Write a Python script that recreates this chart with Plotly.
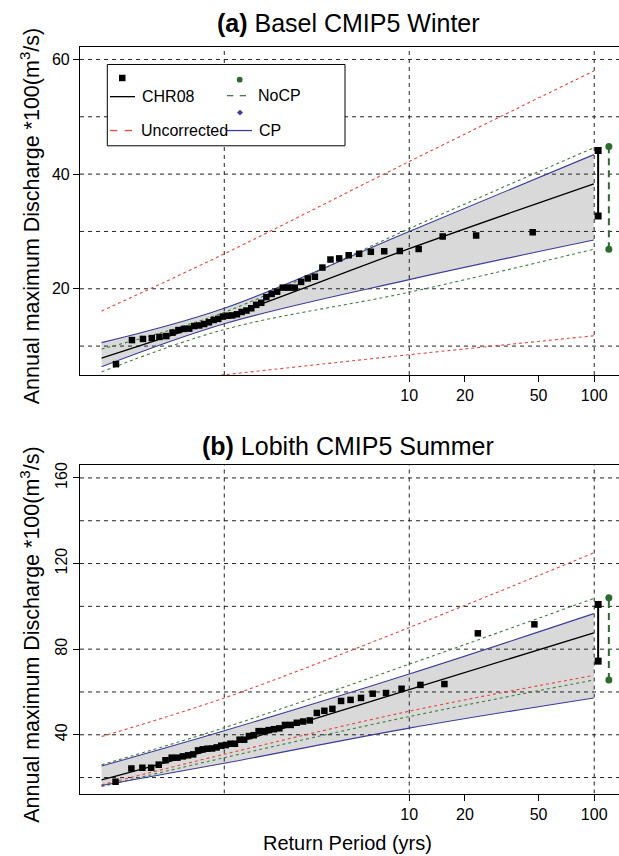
import math
import plotly.graph_objects as go

FONT = "Liberation Sans, Arial, Helvetica, sans-serif"

# ---------------- data ----------------
# Sorted annual maxima (x100 m3/s)
basel_obs = [6.85, 11.05, 11.25, 11.4, 11.6, 11.75, 12.35, 12.8, 13.0, 13.05,
             13.5, 13.6, 13.85, 14.15, 14.55, 14.75, 15.15, 15.3, 15.35, 15.55,
             15.95, 16.2, 16.6, 17.2, 17.55, 18.55, 19.1, 19.5, 20.2, 20.2,
             20.2, 21.2, 21.8, 22.1, 23.7, 25.1, 25.3, 25.85, 26.1, 26.45,
             26.55, 26.6, 26.95, 29.1, 29.3, 29.85]
lobith_obs = [18.1, 24.2, 24.65, 24.65, 26.05, 28.1, 29.3, 29.3, 29.9, 30.4,
              30.85, 32.7, 33.2, 33.5, 33.6, 34.1, 34.9, 35.2, 35.8, 35.8,
              37.7, 37.7, 39.4, 39.8, 41.7, 41.7, 42.2, 42.6, 43.0, 44.6,
              44.6, 45.6, 46.2, 46.7, 50.2, 51.2, 52.1, 55.8, 56.3, 57.2,
              59.2, 59.5, 61.5, 63.3, 63.7, 87.4, 91.6]

# Fitted curves, evaluated at these return periods (yrs)
curve_rp = [0.2171, 1.0, 10.0, 99.5]

basel_chr08 = [7.9, 15.0, 27.0, 38.3]
basel_cp_hi = [10.6, 16.6, 30.0, 43.4]
basel_cp_lo = [6.4, 13.9, 21.6, 28.5]
basel_nocp_hi = [9.5, 15.9, 30.5, 44.6]
basel_nocp_lo = [5.5, 12.9, 19.4, 26.9]
basel_unc_hi = [16.1, 26.1, 42.2, 58.0]
basel_unc_lo = [2.7, 5.0, 8.5, 11.8]

lobith_chr08 = [18.9, 34.7, 61.1, 87.6]
lobith_cp_hi = [25.4, 41.9, 68.4, 96.6]
lobith_cp_lo = [16.3, 26.7, 43.1, 57.2]
lobith_nocp_hi = [26.0, 43.3, 73.0, 103.7]
lobith_nocp_lo = [15.8, 29.3, 48.5, 65.6]
lobith_unc_hi = [39.2, 57.2, 90.1, 125.0]
lobith_unc_lo = [16.6, 30.9, 51.0, 67.75]

# 100-yr ranges drawn beside each panel
bar_rp_chr08 = 105
bar_rp_nocp = 120
basel_bar_chr08 = [32.7, 44.1]
basel_bar_nocp = [26.9, 44.8]
lobith_bar_chr08 = [74.4, 100.9]
lobith_bar_nocp = [65.6, 104.0]

x_ticks = [10, 20, 50, 100]
x_grid = [1, 10, 100]
basel_yticks = [20, 40, 60]
basel_ygrid = [10, 20, 30, 40, 50, 60]
lobith_yticks = [40, 80, 120, 160]
lobith_ygrid = [20, 40, 60, 80, 100, 120, 140, 160]

# ---------------- styling ----------------
W, H = 619, 856
ML = 80
X_RANGE = [-0.780, 2.134]
BASEL_YR = [4.96, 62.2]
LOBITH_YR = [12.55, 166.2]

C_RED = "#e8453c"
C_GREEN = "#3f7f3f"
C_BLUE = "#3c3c99"
C_FILL = "#d9d9d9"
C_GRID = "#222222"


def plotting_rp(n):
    """Weibull plotting-position return periods for ranks 1..n."""
    return [-1.0 / math.log(i / (n + 1)) for i in range(1, n + 1)]


def px(xp):
    return (xp - ML) / (W - ML)


def py(yp):
    return 1 - yp / H


fig = go.Figure()


def add_panel(xa, ya, yr, obs, chr08, cp_hi, cp_lo, nocp_hi, nocp_lo,
              unc_hi, unc_lo, bar_chr, bar_nocp, ygrid):
    kw = dict(xaxis=xa, yaxis=ya, showlegend=False, hoverinfo="skip")
    # CP band
    fig.add_trace(go.Scatter(x=curve_rp, y=cp_lo, mode="lines",
                             line=dict(width=0, shape="spline"), **kw))
    fig.add_trace(go.Scatter(x=curve_rp, y=cp_hi, mode="lines", fill="tonexty",
                             fillcolor=C_FILL, line=dict(width=0, shape="spline"), **kw))
    # grid
    for g in x_grid:
        fig.add_trace(go.Scatter(x=[g, g], y=yr, mode="lines",
                                 line=dict(color=C_GRID, width=1, dash="4px,4px"), **kw))
    for g in ygrid:
        fig.add_trace(go.Scatter(x=[10 ** X_RANGE[0], 10 ** X_RANGE[1]], y=[g, g], mode="lines",
                                 line=dict(color=C_GRID, width=1, dash="4px,4px"), **kw))
    # curves
    for ys in (unc_hi, unc_lo):
        fig.add_trace(go.Scatter(x=curve_rp, y=ys, mode="lines",
                                 line=dict(color=C_RED, width=1.1, dash="3px,3px", shape="spline"), **kw))
    for ys in (nocp_hi, nocp_lo):
        fig.add_trace(go.Scatter(x=curve_rp, y=ys, mode="lines",
                                 line=dict(color=C_GREEN, width=1.1, dash="3px,3px", shape="spline"), **kw))
    for ys in (cp_hi, cp_lo):
        fig.add_trace(go.Scatter(x=curve_rp, y=ys, mode="lines",
                                 line=dict(color=C_BLUE, width=1.1, shape="spline"), **kw))
    fig.add_trace(go.Scatter(x=curve_rp, y=chr08, mode="lines",
                             line=dict(color="black", width=1.3, shape="spline"), **kw))
    # observations
    fig.add_trace(go.Scatter(x=plotting_rp(len(obs)), y=obs, mode="markers",
                             marker=dict(symbol="square", size=6.5, color="black"), **kw))
    # 100-yr ranges
    fig.add_trace(go.Scatter(x=[bar_rp_chr08, bar_rp_chr08], y=bar_chr, mode="lines+markers",
                             line=dict(color="black", width=2),
                             marker=dict(symbol="square", size=7, color="black"), **kw))
    fig.add_trace(go.Scatter(x=[bar_rp_nocp, bar_rp_nocp], y=bar_nocp, mode="lines+markers",
                             line=dict(color="#2e6b2e", width=2, dash="7px,5px"),
                             marker=dict(symbol="circle", size=7, color="#2e6b2e"), **kw))


add_panel("x", "y", BASEL_YR, basel_obs, basel_chr08, basel_cp_hi, basel_cp_lo,
          basel_nocp_hi, basel_nocp_lo, basel_unc_hi, basel_unc_lo,
          basel_bar_chr08, basel_bar_nocp, basel_ygrid)
add_panel("x2", "y2", LOBITH_YR, lobith_obs, lobith_chr08, lobith_cp_hi, lobith_cp_lo,
          lobith_nocp_hi, lobith_nocp_lo, lobith_unc_hi, lobith_unc_lo,
          lobith_bar_chr08, lobith_bar_nocp, lobith_ygrid)

xax = dict(type="log", range=X_RANGE, domain=[0, 1], showgrid=False, zeroline=False,
           showline=True, mirror=True, linecolor="black", linewidth=1.2,
           ticks="outside", ticklen=6, tickcolor="black",
           tickvals=x_ticks, ticktext=[str(v) for v in x_ticks],
           tickfont=dict(family=FONT, size=16, color="black"))
yax = dict(showgrid=False, zeroline=False, showline=True, linecolor="black", linewidth=1.2,
           ticks="outside", ticklen=6, tickcolor="black",
           tickfont=dict(family=FONT, size=16, color="black"))

fig.update_layout(
    width=W, height=H, margin=dict(l=ML, r=0, t=0, b=0),
    paper_bgcolor="white", plot_bgcolor="white",
    xaxis=dict(xax, anchor="y"),
    xaxis2=dict(xax, anchor="y2"),
    yaxis=dict(yax, domain=[py(373.3), py(44)], range=BASEL_YR, anchor="x",
               tickvals=basel_yticks),
    yaxis2=dict(yax, domain=[py(793.3), py(463.3)], range=LOBITH_YR, anchor="x2",
                tickvals=lobith_yticks, tickangle=-90),
)

ann = []
shapes = []
ytitle = "Annual maximum Discharge *100(m<sup>3</sup>/s)"
for title, tcy, pcy in (("<b>(a)</b> Basel CMIP5 Winter", 20, 214),
                        ("<b>(b)</b> Lobith CMIP5 Summer", 445, 634)):
    ann.append(dict(text=title, x=px(348), y=py(tcy), xref="paper", yref="paper",
                    xanchor="center", yanchor="middle", showarrow=False,
                    font=dict(family=FONT, size=25, color="black")))
    ann.append(dict(text=ytitle, x=px(30), y=py(pcy), xref="paper", yref="paper",
                    xanchor="center", yanchor="middle", textangle=-90, showarrow=False,
                    font=dict(family=FONT, size=21.5, color="black")))
ann.append(dict(text="Return Period (yrs)", x=px(347), y=py(843), xref="paper", yref="paper",
                xanchor="center", yanchor="middle", showarrow=False,
                font=dict(family=FONT, size=20, color="black")))

# legend box in panel (a)
shapes.append(dict(type="rect", xref="paper", yref="paper",
                   x0=px(107.3), x1=px(345), y0=py(143.3), y1=py(61.7),
                   line=dict(color="black", width=1), fillcolor="white", layer="above"))
legend_items = [
    ("CHR08", 140, 94, "black", "solid", (110, 135)),
    ("NoCP", 256, 93, C_GREEN, "dash", (227, 246)),
    ("Uncorrected", 139, 128, C_RED, "dash", (110, 132)),
    ("CP", 257, 128, C_BLUE, "solid", (227, 252)),
]
for label, tx, ty, col, style, (l0, l1) in legend_items:
    ann.append(dict(text=label, x=px(tx), y=py(ty), xref="paper", yref="paper",
                    xanchor="left", yanchor="middle", showarrow=False,
                    font=dict(family=FONT, size=16, color="black")))
    if style == "solid":
        shapes.append(dict(type="line", xref="paper", yref="paper", x0=px(l0), x1=px(l1),
                           y0=py(ty), y1=py(ty), line=dict(color=col, width=1.3), layer="above"))
    else:
        seg = (l1 - l0) / 3.0
        for k in (0, 2):
            shapes.append(dict(type="line", xref="paper", yref="paper",
                               x0=px(l0 + k * seg), x1=px(l0 + (k + 1) * seg),
                               y0=py(ty), y1=py(ty), line=dict(color=col, width=1.3), layer="above"))
# legend symbols
shapes.append(dict(type="rect", xref="paper", yref="paper", x0=px(119), x1=px(125.5),
                   y0=py(78.5), y1=py(72), fillcolor="black", line=dict(width=0), layer="above"))
shapes.append(dict(type="circle", xref="paper", yref="paper", x0=px(236.8), x1=px(242.6),
                   y0=py(79.9), y1=py(74.1), fillcolor="#2e6b2e", line=dict(width=0), layer="above"))
cx, cy = 240, 110
shapes.append(dict(type="path", xref="paper", yref="paper",
                   path=f"M {px(cx)} {py(cy - 3)} L {px(cx + 3)} {py(cy)} L {px(cx)} {py(cy + 3)} "
                        f"L {px(cx - 3)} {py(cy)} Z",
                   fillcolor=C_BLUE, line=dict(width=0), layer="above"))

fig.update_layout(annotations=ann, shapes=shapes)
fig.write_html("out.html")
